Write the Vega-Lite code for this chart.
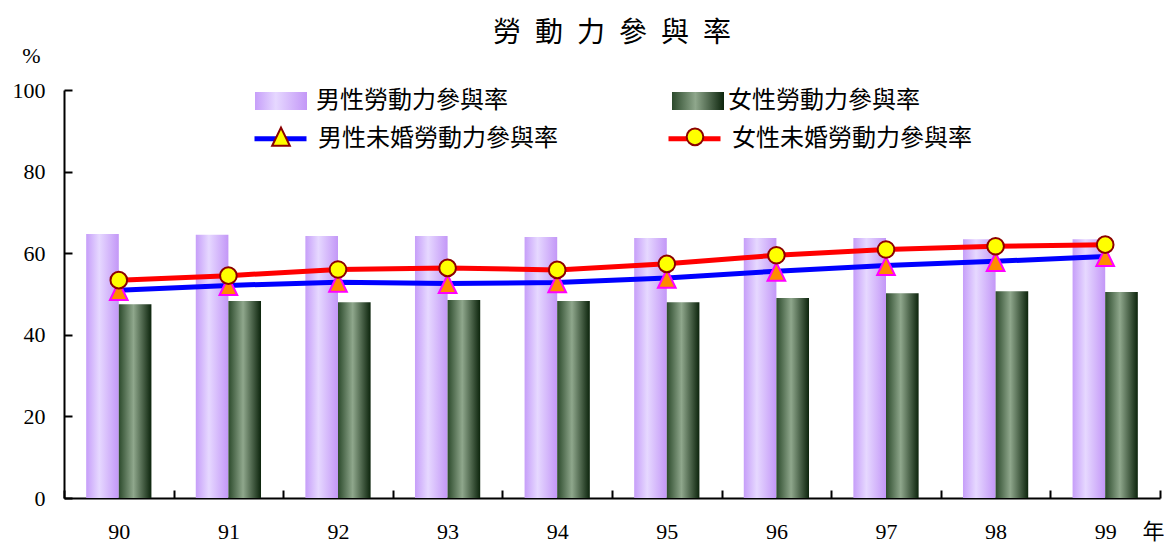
{
  "$schema": "https://vega.github.io/schema/vega-lite/v6.json",
  "width": 1096,
  "height": 408,
  "autosize": {"type": "none"},
  "padding": {"left": 64, "top": 90, "right": 4, "bottom": 45},
  "background": "white",
  "title": {"text": "勞\u2002動\u2002力\u2002參\u2002與\u2002率", "font": "Noto Sans CJK TC", "fontSize": 28, "fontWeight": "normal", "anchor": "middle", "offset": -4, "color": "black"},
  "datasets": {
    "bars": [
      {"year": "90", "series": "男性勞動力參與率", "value": 64.7},
      {"year": "91", "series": "男性勞動力參與率", "value": 64.5},
      {"year": "92", "series": "男性勞動力參與率", "value": 64.2},
      {"year": "93", "series": "男性勞動力參與率", "value": 64.2},
      {"year": "94", "series": "男性勞動力參與率", "value": 64.0},
      {"year": "95", "series": "男性勞動力參與率", "value": 63.7},
      {"year": "96", "series": "男性勞動力參與率", "value": 63.7},
      {"year": "97", "series": "男性勞動力參與率", "value": 63.7},
      {"year": "98", "series": "男性勞動力參與率", "value": 63.4},
      {"year": "99", "series": "男性勞動力參與率", "value": 63.4},
      {"year": "90", "series": "女性勞動力參與率", "value": 47.5},
      {"year": "91", "series": "女性勞動力參與率", "value": 48.3},
      {"year": "92", "series": "女性勞動力參與率", "value": 48.0},
      {"year": "93", "series": "女性勞動力參與率", "value": 48.5},
      {"year": "94", "series": "女性勞動力參與率", "value": 48.3},
      {"year": "95", "series": "女性勞動力參與率", "value": 48.0},
      {"year": "96", "series": "女性勞動力參與率", "value": 49.0},
      {"year": "97", "series": "女性勞動力參與率", "value": 50.2},
      {"year": "98", "series": "女性勞動力參與率", "value": 50.7},
      {"year": "99", "series": "女性勞動力參與率", "value": 50.5}
    ],
    "lines": [
      {"year": "90", "series": "男性未婚勞動力參與率", "value": 50.9},
      {"year": "91", "series": "男性未婚勞動力參與率", "value": 52.1},
      {"year": "92", "series": "男性未婚勞動力參與率", "value": 52.9},
      {"year": "93", "series": "男性未婚勞動力參與率", "value": 52.6},
      {"year": "94", "series": "男性未婚勞動力參與率", "value": 52.8},
      {"year": "95", "series": "男性未婚勞動力參與率", "value": 53.9},
      {"year": "96", "series": "男性未婚勞動力參與率", "value": 55.6},
      {"year": "97", "series": "男性未婚勞動力參與率", "value": 57.0},
      {"year": "98", "series": "男性未婚勞動力參與率", "value": 58.0},
      {"year": "99", "series": "男性未婚勞動力參與率", "value": 59.2},
      {"year": "90", "series": "女性未婚勞動力參與率", "value": 53.4},
      {"year": "91", "series": "女性未婚勞動力參與率", "value": 54.5},
      {"year": "92", "series": "女性未婚勞動力參與率", "value": 56.0},
      {"year": "93", "series": "女性未婚勞動力參與率", "value": 56.4},
      {"year": "94", "series": "女性未婚勞動力參與率", "value": 55.9},
      {"year": "95", "series": "女性未婚勞動力參與率", "value": 57.4},
      {"year": "96", "series": "女性未婚勞動力參與率", "value": 59.5},
      {"year": "97", "series": "女性未婚勞動力參與率", "value": 60.9},
      {"year": "98", "series": "女性未婚勞動力參與率", "value": 61.7},
      {"year": "99", "series": "女性未婚勞動力參與率", "value": 62.1}
    ]
  },
  "encoding": {
    "x": {
      "field": "year", "type": "ordinal",
      "scale": {"paddingInner": 0, "paddingOuter": 0},
      "axis": {
        "title": "年", "titleFont": "Noto Sans CJK TC", "titleFontSize": 22, "titleFontWeight": "normal",
        "titleX": 1089, "titleY": 33, "titleAngle": 0, "titleBaseline": "middle", "titleAlign": "center", "titleColor": "black",
        "labelAngle": 0, "labelPadding": 31, "tickBand": "extent"
      }
    },
    "y": {
      "field": "value", "type": "quantitative",
      "scale": {"domain": [0, 100], "nice": false},
      "axis": {
        "values": [0, 20, 40, 60, 80, 100],
        "title": "%", "titleFont": "Liberation Serif", "titleFontSize": 22, "titleFontWeight": "normal",
        "titleX": -33, "titleY": -35, "titleAngle": 0, "titleBaseline": "middle", "titleAlign": "center", "titleColor": "black",
        "labelPadding": 27
      }
    }
  },
  "layer": [
    {
      "data": {"name": "bars"},
      "transform": [{"filter": "datum.series === '男性勞動力參與率'"}],
      "mark": {"type": "bar", "fill": {"gradient": "linear", "x1": 0, "y1": 0, "x2": 1, "y2": 0, "stops": [{"offset": 0, "color": "#c69ef9"}, {"offset": 0.4, "color": "#e6d8ff"}, {"offset": 1, "color": "#c397f7"}]}},
      "encoding": {
        "xOffset": {"field": "series", "type": "nominal", "sort": ["男性勞動力參與率", "女性勞動力參與率"], "scale": {"domain": ["男性勞動力參與率", "女性勞動力參與率"], "paddingInner": 0, "paddingOuter": 0.68}},
        "opacity": {
          "field": "series", "type": "nominal",
          "scale": {"domain": ["男性勞動力參與率"], "range": [1]},
          "legend": {
            "orient": "none", "legendX": 191, "legendY": -15, "title": null, "padding": 0,
            "symbolType": "M-1,-0.35H1V0.35H-1Z", "symbolSize": 2704, "symbolStrokeWidth": 0,
            "labelFont": "Noto Sans CJK TC", "labelFontSize": 24, "labelOffset": 9, "labelLimit": 400, "labelColor": "black"
          }
        }
      }
    },
    {
      "data": {"name": "bars"},
      "transform": [{"filter": "datum.series === '女性勞動力參與率'"}],
      "mark": {"type": "bar", "fill": {"gradient": "linear", "x1": 0, "y1": 0, "x2": 1, "y2": 0, "stops": [{"offset": 0, "color": "#2c4a2c"}, {"offset": 0.45, "color": "#8fa78c"}, {"offset": 1, "color": "#0c240c"}]}},
      "encoding": {
        "xOffset": {"field": "series", "type": "nominal", "sort": ["男性勞動力參與率", "女性勞動力參與率"]},
        "opacity": {
          "field": "series", "type": "nominal",
          "scale": {"domain": ["女性勞動力參與率"], "range": [1]},
          "legend": {
            "orient": "none", "legendX": 608, "legendY": -15, "title": null, "padding": 0,
            "symbolType": "M-1,-0.35H1V0.35H-1Z", "symbolSize": 2704, "symbolStrokeWidth": 0,
            "labelFont": "Noto Sans CJK TC", "labelFontSize": 24, "labelOffset": 4, "labelLimit": 400, "labelColor": "black"
          }
        }
      }
    },
    {
      "data": {"name": "lines"},
      "mark": {"type": "line", "strokeWidth": 5},
      "encoding": {
        "stroke": {
          "field": "series", "type": "nominal",
          "sort": ["男性未婚勞動力參與率", "女性未婚勞動力參與率"],
          "scale": {"domain": ["男性未婚勞動力參與率", "女性未婚勞動力參與率"], "range": ["#0000ff", "#ff0000"]},
          "legend": {
            "orient": "none", "legendX": 188, "legendY": 20, "columns": 2, "columnPadding": 100, "title": null, "padding": 0,
            "symbolType": "stroke", "symbolSize": 2704, "symbolStrokeWidth": 5,
            "labelFont": "Noto Sans CJK TC", "labelFontSize": 24, "labelOffset": 9, "labelLimit": 400, "labelColor": "black"
          }
        }
      }
    },
    {
      "data": {"name": "lines"},
      "mark": {"type": "point", "filled": true, "opacity": 1, "size": 2704, "strokeWidth": 2},
      "encoding": {
        "shape": {
          "field": "series", "type": "nominal",
          "sort": ["男性未婚勞動力參與率", "女性未婚勞動力參與率"],
          "scale": {"domain": ["男性未婚勞動力參與率", "女性未婚勞動力參與率"], "range": ["M0,-0.33L0.34,0.37L-0.34,0.37Z", "M-0.32,0A0.32,0.32,0,1,1,0.32,0A0.32,0.32,0,1,1,-0.32,0Z"]},
          "legend": {
            "orient": "none", "legendX": 190, "legendY": 19, "columns": 2, "columnPadding": 360, "title": null, "padding": 0,
            "symbolSize": 2704, "symbolStrokeWidth": 2,
            "labelFont": "Noto Sans CJK TC", "labelFontSize": 24, "labelOffset": 0, "labelLimit": 400, "labelExpr": "''",
            "encode": {"symbols": {"update": {
              "fill": {"signal": "datum.value === '男性未婚勞動力參與率' ? '#ff8c00' : '#ffff00'"},
              "stroke": {"signal": "datum.value === '男性未婚勞動力參與率' ? '#ff00ff' : '#8b0000'"},
              "opacity": {"value": 1}
            }}}
          }
        },
        "fill": {"condition": {"test": "datum.series === '男性未婚勞動力參與率'", "value": "#ff8c00"}, "value": "#ffff00"},
        "stroke": {"condition": {"test": "datum.series === '男性未婚勞動力參與率'", "value": "#ff00ff"}, "value": "#8b0000"}
      }
    }
  ],
  "resolve": {
    "scale": {"opacity": "independent"},
    "legend": {"opacity": "independent", "stroke": "independent", "shape": "independent"}
  },
  "config": {
    "view": {"stroke": null},
    "axis": {
      "domainColor": "black", "domainWidth": 2, "tickColor": "black", "tickWidth": 2, "tickSize": -8,
      "grid": false, "labelFont": "Liberation Serif", "labelFontSize": 22, "labelColor": "black"
    }
  }
}
